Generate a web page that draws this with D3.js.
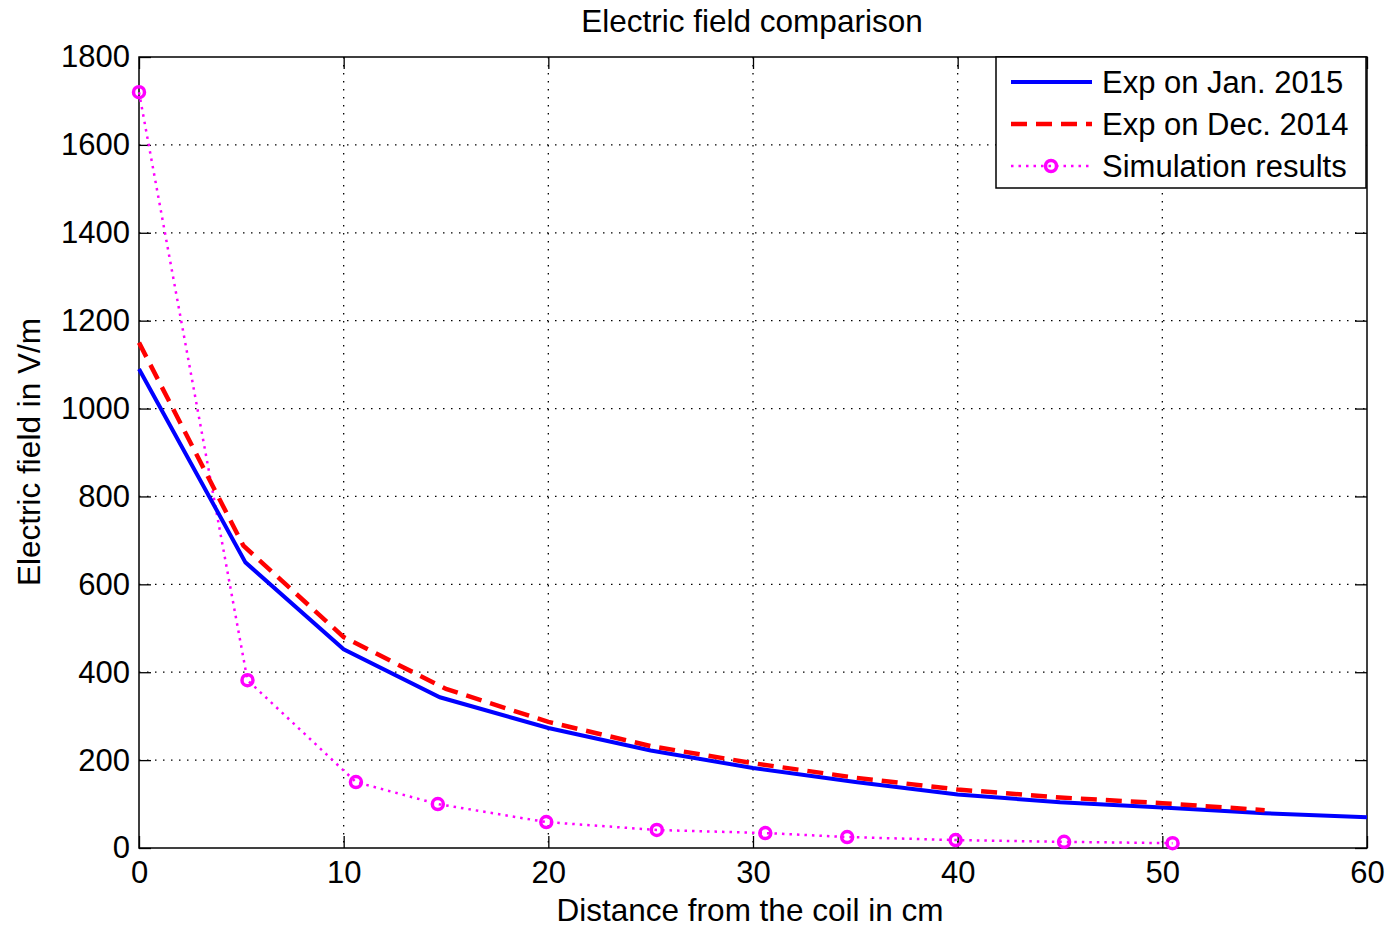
<!DOCTYPE html>
<html>
<head>
<meta charset="utf-8">
<script src="https://cdn.jsdelivr.net/npm/d3@7"></script>
<style>
  body { margin: 0; background: #fff; }
  text { font-family: "Liberation Sans", Arial, sans-serif; fill: #000; }
</style>
</head>
<body>
<div id="chart"></div>
<script>
// chart size
var svgWidth = 1391;
var svgHeight = 927;

// plot box edges
var marginLeft = 139;
var marginTop = 57;
var marginRight = 24;
var marginBottom = 79;

var width = svgWidth - marginLeft - marginRight;
var height = svgHeight - marginTop - marginBottom;

// data
var janX = [0, 5.2, 10, 14.7, 20, 25, 30, 35, 40, 45, 50, 55, 60];
var janY = [1090, 650, 452, 343, 273, 222, 182, 150, 122, 104, 92, 79, 70];

var decX = [0, 5.1, 10, 15, 20, 25, 30, 35, 40, 45, 50, 55];
var decY = [1150, 688, 480, 362, 287, 232, 193, 160, 133, 115, 102, 86];

var simX = [0, 5.3, 10.6, 14.6, 19.9, 25.3, 30.6, 34.6, 39.9, 45.2, 50.5];
var simY = [1720, 382, 150, 100, 59, 41, 34, 25, 18, 14, 11];

var xTicks = [0, 10, 20, 30, 40, 50, 60];
var yTicks = [0, 200, 400, 600, 800, 1000, 1200, 1400, 1600, 1800];

var seriesNames = ["Exp on Jan. 2015", "Exp on Dec. 2014", "Simulation results"];

var svg = d3.select("#chart")
  .append("svg")
  .attr("width", svgWidth)
  .attr("height", svgHeight);

var chartGroup = svg.append("g")
  .attr("transform", `translate(${marginLeft}, ${marginTop})`);

var xScale = d3.scaleLinear().domain([0, 60]).range([0, width]);
var yScale = d3.scaleLinear().domain([0, 1800]).range([height, 0]);

// dotted grid
chartGroup.append("g")
  .selectAll("line.gx")
  .data(xTicks.slice(1, -1))
  .enter()
  .append("line")
  .attr("x1", d => xScale(d)).attr("x2", d => xScale(d))
  .attr("y1", 0).attr("y2", height)
  .attr("stroke", "#000")
  .attr("stroke-width", 1.3)
  .attr("stroke-dasharray", "1.5,6.5");

chartGroup.append("g")
  .selectAll("line.gy")
  .data(yTicks.slice(1, -1))
  .enter()
  .append("line")
  .attr("x1", 0).attr("x2", width)
  .attr("y1", d => yScale(d)).attr("y2", d => yScale(d))
  .attr("stroke", "#000")
  .attr("stroke-width", 1.3)
  .attr("stroke-dasharray", "1.5,6.5");

// axes with inward ticks on all four sides
var tickLen = 12;
var xAxis = d3.axisBottom(xScale).tickValues(xTicks).tickSize(-tickLen)
  .tickPadding(13).tickFormat(d3.format("d"));
var yAxis = d3.axisLeft(yScale).tickValues(yTicks).tickSize(-tickLen)
  .tickPadding(9).tickFormat(d3.format("d"));

chartGroup.append("g")
  .attr("class", "xAxis")
  .attr("transform", `translate(0, ${height})`)
  .call(xAxis);
chartGroup.append("g")
  .attr("class", "yAxis")
  .call(yAxis);
chartGroup.append("g")
  .attr("class", "xTop")
  .call(d3.axisTop(xScale).tickValues(xTicks).tickSize(-tickLen).tickFormat(""));
chartGroup.append("g")
  .attr("class", "yRight")
  .attr("transform", `translate(${width}, 0)`)
  .call(d3.axisRight(yScale).tickValues(yTicks).tickSize(-tickLen).tickFormat(""));

chartGroup.selectAll(".domain").remove();
chartGroup.selectAll(".tick line").attr("stroke", "#000").attr("stroke-width", 1.3);
chartGroup.selectAll(".xAxis text, .yAxis text")
  .attr("font-size", 31)
  .attr("font-family", "Liberation Sans, Arial, sans-serif")
  .attr("fill", "#000");

chartGroup.append("rect")
  .attr("x", 0).attr("y", 0)
  .attr("width", width).attr("height", height)
  .attr("fill", "none")
  .attr("stroke", "#000")
  .attr("stroke-width", 1.5);

// series
var line = d3.line()
  .curve(d3.curveMonotoneX)
  .x(d => xScale(d[0]))
  .y(d => yScale(d[1]));
var straight = d3.line()
  .x(d => xScale(d[0]))
  .y(d => yScale(d[1]));

var janData = d3.zip(janX, janY);
var decData = d3.zip(decX, decY);
var simData = d3.zip(simX, simY);

chartGroup.append("path")
  .datum(simData)
  .attr("d", straight)
  .attr("fill", "none")
  .attr("stroke", "#ff00ff")
  .attr("stroke-width", 2.5)
  .attr("stroke-dasharray", "2.5,5");

chartGroup.append("path")
  .datum(janData)
  .attr("d", straight)
  .attr("fill", "none")
  .attr("stroke", "#0000ff")
  .attr("stroke-width", 4);

chartGroup.append("path")
  .datum(decData)
  .attr("d", straight)
  .attr("fill", "none")
  .attr("stroke", "#ff0000")
  .attr("stroke-width", 4.5)
  .attr("stroke-dasharray", "16,9");

chartGroup.selectAll("circle.sim")
  .data(simData)
  .enter()
  .append("circle")
  .attr("class", "sim")
  .attr("cx", d => xScale(d[0]))
  .attr("cy", d => yScale(d[1]))
  .attr("r", 5.5)
  .attr("fill", "none")
  .attr("stroke", "#ff00ff")
  .attr("stroke-width", 3.5);

// legend
var legend = svg.append("g").attr("transform", "translate(996, 57)");
legend.append("rect")
  .attr("width", 370).attr("height", 131)
  .attr("fill", "#fff")
  .attr("stroke", "#000")
  .attr("stroke-width", 1.5);

var legendStyles = [
  { color: "#0000ff", dash: null, w: 4 },
  { color: "#ff0000", dash: "16,9", w: 4.5 },
  { color: "#ff00ff", dash: "2.5,5", w: 2.5 }
];

seriesNames.forEach(function(name, i) {
  var yy = 25 + i * 42;
  var s = legendStyles[i];
  legend.append("line")
    .attr("x1", 15).attr("x2", 96)
    .attr("y1", yy).attr("y2", yy)
    .attr("stroke", s.color)
    .attr("stroke-width", s.w)
    .attr("stroke-dasharray", s.dash);
  if (i === 2) {
    legend.append("circle")
      .attr("cx", 55).attr("cy", yy).attr("r", 5.5)
      .attr("fill", "none").attr("stroke", s.color).attr("stroke-width", 3.5);
  }
  legend.append("text")
    .attr("x", 106).attr("y", yy + 11)
    .attr("font-size", 31)
    .text(name);
});

// title and axis labels
svg.append("text")
  .attr("x", 752).attr("y", 32)
  .attr("text-anchor", "middle")
  .attr("font-size", 31.5)
  .text("Electric field comparison");

svg.append("text")
  .attr("x", 750).attr("y", 921)
  .attr("text-anchor", "middle")
  .attr("font-size", 31.5)
  .text("Distance from the coil in cm");

svg.append("text")
  .attr("transform", "translate(40, 452) rotate(-90)")
  .attr("text-anchor", "middle")
  .attr("font-size", 31.5)
  .text("Electric field in V/m");
</script>
</body>
</html>
